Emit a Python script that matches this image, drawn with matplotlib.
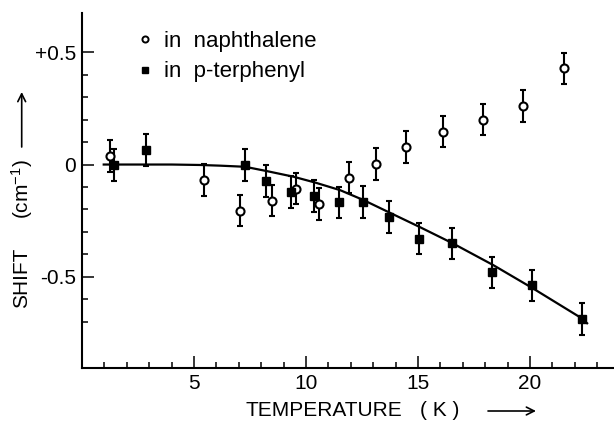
import matplotlib
matplotlib.use('Agg')
import matplotlib.pyplot as plt
from matplotlib.lines import Line2D
from matplotlib.ticker import FixedLocator

# naphthalene host (open circles)
naph_T = [1.23, 5.45, 7.05, 8.47, 9.55, 10.6, 11.93, 13.13, 14.46, 16.13, 17.89, 19.7, 21.5]
naph_S = [0.038, -0.069, -0.206, -0.161, -0.107, -0.176, -0.058, 0.002, 0.079, 0.147, 0.2, 0.261, 0.428]
naph_err = [0.07] * len(naph_T)

# p-terphenyl host (filled squares)
terp_T = [1.41, 2.84, 7.26, 8.22, 9.35, 10.37, 11.48, 12.55, 13.71, 15.03, 16.54, 18.32, 20.1, 22.31]
terp_S = [-0.002, 0.065, -0.002, -0.073, -0.122, -0.14, -0.169, -0.166, -0.233, -0.33, -0.351, -0.48, -0.538, -0.688]
terp_err = [0.07] * len(terp_T)

# theoretical curve
fit_T = [0.97, 2.0, 3.0, 4.0, 5.27, 6.16, 7.28, 8.24, 9.43, 10.4, 11.52, 12.56,
         13.75, 15.09, 16.55, 18.36, 20.12, 22.31, 22.55]
fit_S = [0.0, 0.0, 0.0, 0.0, -0.002, -0.005, -0.01, -0.029, -0.054, -0.08, -0.114, -0.158,
         -0.215, -0.279, -0.351, -0.448, -0.551, -0.685, -0.707]

x_major = [5, 10, 15, 20]
x_minor = [t for t in range(1, 24) if t not in x_major]
y_major = [-0.5, 0.0, 0.5]
y_major_labels = ['-0.5', '0', '+0.5']
y_minor = [-0.7, -0.6, -0.4, -0.3, -0.2, -0.1, 0.1, 0.2, 0.3, 0.4]

plt.rcParams['font.family'] = ['Liberation Sans', 'DejaVu Sans']
plt.rcParams['mathtext.default'] = 'regular'

W, H = 614, 422
fig = plt.figure(figsize=(W / 100, H / 100), dpi=100)
ax = fig.add_axes([82 / W, 1 - 367.7 / H, 1 - 82 / W, (367.7 - 13) / H])

ax.plot(fit_T, fit_S, color='black', lw=1.6, zorder=2)
ax.errorbar(naph_T, naph_S, yerr=naph_err, fmt='o', ms=5.8, mfc='white', mec='black',
            mew=1.5, ecolor='black', elinewidth=1.5, capsize=2.3, capthick=1.5, zorder=3)
ax.errorbar(terp_T, terp_S, yerr=terp_err, fmt='s', ms=6.3, mfc='black', mec='black',
            ecolor='black', elinewidth=1.5, capsize=2.3, capthick=1.5, zorder=3)

ax.set_xlim(0, 23.75)
ax.set_ylim(-0.905, 0.675)

for s in ['top', 'right']:
    ax.spines[s].set_visible(False)
for s in ['left', 'bottom']:
    ax.spines[s].set_linewidth(1.5)

ax.xaxis.set_major_locator(FixedLocator(x_major))
ax.xaxis.set_minor_locator(FixedLocator(x_minor))
ax.yaxis.set_major_locator(FixedLocator(y_major))
ax.yaxis.set_minor_locator(FixedLocator(y_minor))
ax.set_xticklabels([str(v) for v in x_major], fontsize=15)
ax.set_yticklabels(y_major_labels, fontsize=15)
ax.tick_params(which='major', direction='in', length=8.6, width=1.1, pad=4.3)
ax.tick_params(which='minor', direction='in', length=4.3, width=1.1)

# legend
handles = [Line2D([], [], ls='none', marker='o', ms=4.4, mfc='white', mec='black', mew=1.4),
           Line2D([], [], ls='none', marker='s', ms=4.6, mfc='black', mec='black')]
ax.legend(handles, ['in  naphthalene', 'in  p-terphenyl'], loc='upper left',
          bbox_to_anchor=(139 / W, 1 - 31 / H), bbox_transform=fig.transFigure,
          frameon=False, fontsize=16, handlelength=0.56, handletextpad=0.56,
          borderpad=0, borderaxespad=0, labelspacing=0.42)

# axis titles with arrows
fig.text(245 / W, 1 - 410 / H, 'TEMPERATURE', fontsize=15, ha='left', va='center')
fig.text(420 / W, 1 - 410 / H, '( K )', fontsize=15, ha='left', va='center')
fig.text(21.7 / W, 1 - 278 / H, 'SHIFT', fontsize=15, rotation=90, ha='center', va='center')
fig.text(21.7 / W, 1 - 189 / H, '(cm$^{-1}$)', fontsize=15, rotation=90, ha='center', va='center')

arrow = dict(arrowstyle='->', color='black', lw=1.2, shrinkA=0, shrinkB=0,
             mutation_scale=14)
fig.add_artist(matplotlib.patches.FancyArrowPatch((488 / W, 1 - 411 / H), (536 / W, 1 - 411 / H),
                                                  transform=fig.transFigure, **arrow))
fig.add_artist(matplotlib.patches.FancyArrowPatch((21.7 / W, 1 - 147 / H), (21.7 / W, 1 - 92 / H),
                                                  transform=fig.transFigure, **arrow))

fig.savefig('out.png', dpi=100)
